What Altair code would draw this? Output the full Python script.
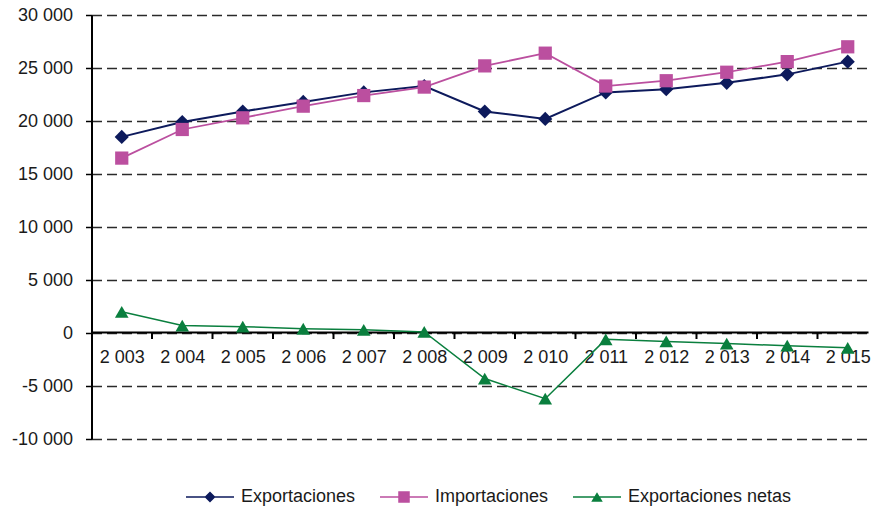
import altair as alt
import pandas as pd

years = list(range(2003, 2016))
exportaciones = [18500, 19900, 20900, 21800, 22700, 23300, 20900, 20200, 22700, 23000, 23600, 24400, 25600]
importaciones = [16500, 19200, 20300, 21400, 22400, 23200, 25200, 26400, 23300, 23800, 24600, 25600, 27000]
netas = [2000, 700, 600, 400, 300, 100, -4300, -6200, -600, -800, -1000, -1200, -1400]

series = ["Exportaciones", "Importaciones", "Exportaciones netas"]
colors = ["#0d1a5c", "#bb4f9f", "#0a7f3e"]
shapes = ["diamond", "square", "triangle-up"]
y_ticks = list(range(-10000, 30001, 5000))

rows = []
for name, vals in zip(series, [exportaciones, importaciones, netas]):
    for yr, v in zip(years, vals):
        rows.append({"year": yr, "value": v, "series": name})
df = pd.DataFrame(rows)

# category boundaries (tick marks of the category axis)
boundaries = pd.DataFrame({"year": [yr + 0.5 for yr in years[:-1]], "value": [0] * (len(years) - 1)})

FONT = "Liberation Sans"
TXT = "#1a1a1a"

# legend symbols: a short line with the series marker in its middle
legend_paths = [
    "M-1,-0.035H1V0.035H-1Z M0,-0.23L0.23,0L0,0.23L-0.23,0Z",
    "M-1,-0.035H1V0.035H-1Z M-0.24,-0.24H0.24V0.24H-0.24Z",
    "M-1,-0.035H1V0.035H-1Z M0,-0.2L0.24,0.2L-0.24,0.2Z",
]
legend_x = [94.5, 288.5, 481.5]

x_scale = alt.Scale(domain=[2002.5, 2015.335], nice=False, zero=False)
x_axis = alt.Axis(
    orient="bottom",
    values=years,
    labelExpr="replace(format(datum.value, ','), ',', ' ')",
    ticks=False,
    domain=True,
    domainColor="black",
    domainWidth=2,
    offset=-107,
    grid=False,
    labelFont=FONT,
    labelFontSize=18,
    labelColor=TXT,
    labelPadding=16,
    labelOverlap=False,
    labelFlush=False,
    title=None,
)

y_scale = alt.Scale(domain=[-10000, 30000], nice=False)
y_axis = alt.Axis(
    values=y_ticks,
    labelExpr="(datum.value < 0 ? '-' : '') + replace(format(abs(datum.value), ','), ',', ' ')",
    grid=True,
    gridDash=[10, 5],
    gridColor="#2a2a2a",
    gridWidth=1.6,
    domainColor="black",
    domainWidth=2,
    tickSize=6,
    tickColor="black",
    tickWidth=1.5,
    labelFont=FONT,
    labelFontSize=18,
    labelColor=TXT,
    labelPadding=13,
    title=None,
)

x_enc = alt.X("year:Q", scale=x_scale, axis=x_axis)
y_enc = alt.Y("value:Q", scale=y_scale, axis=y_axis)

base = alt.Chart(df)

lines = base.mark_line().encode(
    x=x_enc,
    y=y_enc,
    stroke=alt.Stroke("series:N", scale=alt.Scale(domain=series, range=colors), legend=None),
    strokeWidth=alt.StrokeWidth(
        "series:N", scale=alt.Scale(domain=series, range=[2, 1.5, 1.5]), legend=None
    ),
    detail="series:N",
)

size_expr = (
    "datum.series === 'Exportaciones' ? 200 : (datum.series === 'Importaciones' ? 175 : 185)"
)

points = base.transform_calculate(msize=size_expr).mark_point(filled=True, opacity=1).encode(
    x=x_enc,
    y=y_enc,
    fill=alt.Fill("series:N", scale=alt.Scale(domain=series, range=colors), legend=None),
    shape=alt.Shape("series:N", scale=alt.Scale(domain=series, range=shapes), legend=None),
    size=alt.Size("msize:Q", scale=None, legend=None),
)

# small downward tick at each category boundary on the zero line
ticks = alt.Chart(boundaries).mark_point(
    shape="M0,0V1", filled=False, stroke="black", strokeWidth=2, size=144, opacity=1
).encode(
    x=x_enc,
    y=y_enc,
)

legend_layers = []
for name, path, col, lx in zip(series, legend_paths, colors, legend_x):
    lg = alt.Legend(
        title=None,
        orient="none",
        direction="horizontal",
        legendX=lx,
        legendY=458,
        symbolSize=2304,
        symbolFillColor=col,
        symbolStrokeWidth=0,
        symbolOpacity=1,
        labelFont=FONT,
        labelFontSize=18,
        labelColor=TXT,
        labelOffset=7,
        labelLimit=400,
        padding=0,
    )
    legend_layers.append(
        base.transform_filter("false").mark_point(filled=True, size=2304, color=col, fill=col).encode(
            shape=alt.Shape("series:N", scale=alt.Scale(domain=[name], range=[path]), legend=lg),
        )
    )

chart = (
    alt.layer(lines, points, ticks, *legend_layers)
    .resolve_scale(shape="independent")
    .properties(
        width=776.5,
        height=424,
        autosize=alt.AutoSizeParams(type="none"),
        padding={"left": 91.5, "top": 15, "right": 3, "bottom": 71},
        background="white",
    )
    .configure_view(stroke=None)
)

chart.save("out.html", embed_options={"renderer": "svg", "actions": False})
